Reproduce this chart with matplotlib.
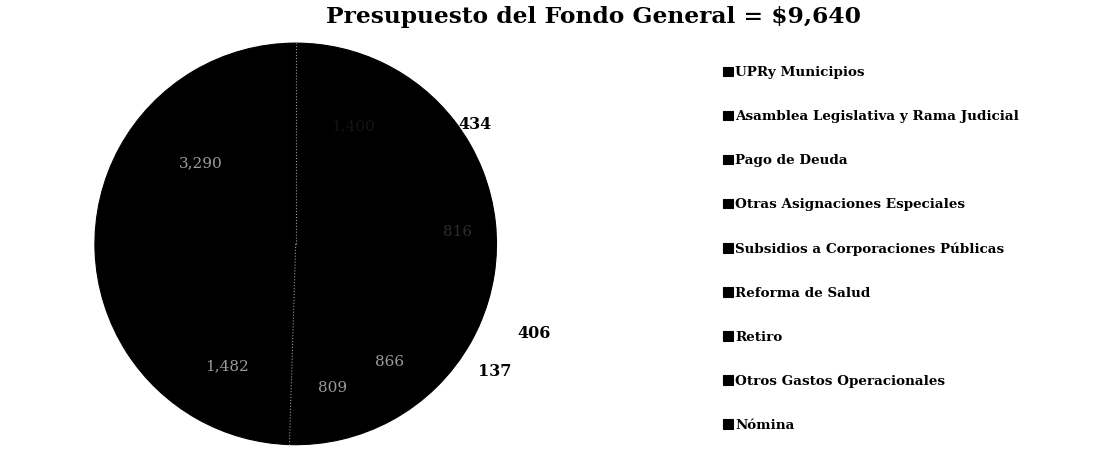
import numpy as np
import matplotlib
matplotlib.use('Agg')
import matplotlib.pyplot as plt

# Datos del presupuesto (millones de dólares)
categorias = ['UPRy Municipios',
              'Asamblea Legislativa y Rama Judicial',
              'Pago de Deuda',
              'Otras Asignaciones Especiales',
              'Subsidios a Corporaciones Públicas',
              'Reforma de Salud',
              'Retiro',
              'Otros Gastos Operacionales',
              'Nómina']
valores = [1400, 434, 816, 406, 137, 866, 809, 1482, 3290]
etiquetas = ['1,400', '434', '816', '406', '137', '866', '809', '1,482', '3,290']
afuera = [False, True, False, True, True, False, False, False, False]
titulo = 'Presupuesto del Fondo General = $9,640'

fig = plt.figure(figsize=(11.18, 4.5), dpi=100)

# Pastel
ax = fig.add_axes([0.084, 0.009, 0.361, 0.898])
wedges, _ = ax.pie(valores, startangle=90, counterclock=False,
                   colors=['black'] * len(valores),
                   wedgeprops=dict(linewidth=0.8, edgecolor='black'))
ax.set_aspect('equal')
ax.set_xlim(-1.005, 1.005)
ax.set_ylim(-1.005, 1.005)

# posición de cada etiqueta: (radio, desplazamiento angular en grados)
pos_etiqueta = [(0.65, 0), (1.07, 4), (0.81, -2), (1.27, -4), (1.18, -6),
                (0.75, -6), (0.74, 1), (0.70, 0), (0.62, -12)]
colores_dentro = {0: '#141414', 2: '#2e2e2e'}
for i, w in enumerate(wedges):
    r, d = pos_etiqueta[i]
    ang = np.deg2rad((w.theta1 + w.theta2) / 2 + d)
    if afuera[i]:
        ax.text(r * np.cos(ang), r * np.sin(ang), etiquetas[i], ha='center', va='center',
                fontsize=11.5, fontweight='bold', family='DejaVu Serif', color='black',
                clip_on=False)
    else:
        ax.text(r * np.cos(ang), r * np.sin(ang), etiquetas[i], ha='center', va='center',
                fontsize=11, family='DejaVu Serif', color=colores_dentro.get(i, '#9a9a9a'))

# Líneas punteadas visibles en el escaneo (inicio del pastel y de "Otros Gastos")
for t in [wedges[0].theta2, wedges[7].theta2]:
    a = np.deg2rad(t)
    ax.plot([0, np.cos(a)], [0, np.sin(a)], color='#9a9a9a', lw=0.8, ls=':')

# Título
fig.text(0.531, 0.963, titulo, ha='center', va='center', fontsize=16.8,
         fontweight='bold', family='DejaVu Serif')

# Leyenda
fig.legend(wedges, categorias, loc='upper left', bbox_to_anchor=(0.636, 0.88),
           frameon=False, handlelength=0.7, handleheight=0.7, handletextpad=0.2,
           labelspacing=2.3, prop=dict(family='DejaVu Serif', size=9.7, weight='bold'))

fig.savefig('out.png', dpi=100)
